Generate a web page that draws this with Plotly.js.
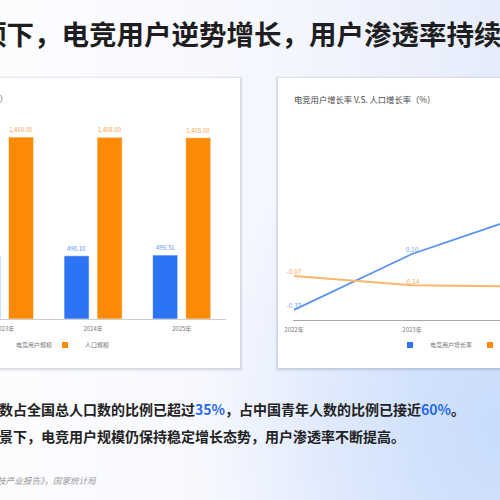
<!DOCTYPE html>
<html>
<head>
<meta charset="utf-8">
<script src="https://cdn.plot.ly/plotly-3.0.1.min.js"></script>
<style>
html,body{margin:0;padding:0;width:500px;height:500px;overflow:hidden;}
body{background:
 radial-gradient(ellipse 60% 70% at 100% 85%, rgba(200,220,252,1) 0%, rgba(200,220,252,0) 100%),
 linear-gradient(90deg,#fdfdff 0%,#f5f7fe 55%,#e6ecfb 100%);}
#chart{width:500px;height:500px;}
</style>
</head>
<body>
<div id="chart"></div>
<script>
// ---- data ----
const barYears = ['2023年', '2024年', '2025年'];
const esportsUsers = [489.60, 490.10, 495.31];
const population = [1410.00, 1408.00, 1405.00];
const rateYears = ['2022年', '2023年', '2024年'];
const esportsGrowth = [-0.33, 0.10, 0.41];
const popGrowth = [-0.07, -0.14, -0.15];
const seriesNames = ['电竞用户规模', '人口规模', '电竞用户增长率', '人口增长率'];

const BLUE = '#2c74f4', ORANGE = '#fd8a04';
const LBLUE = '#5a93f7', LORANGE = '#fbb66c';
const FONT = '"Noto Sans CJK SC", "Noto Sans", sans-serif';
const px = v => v / 500;          // horizontal pixel -> paper
const py = v => (500 - v) / 500;  // vertical pixel -> paper

// value labels: shown only where the point lies inside the visible frame
const barUserTpl = ['', '%{y:,.2f}', '%{y:,.2f}'];
const lineTpl = ['%{y:.2f}', '%{y:.2f}', ''];

const traces = [
  {type:'bar', x:barYears, y:esportsUsers, name:seriesNames[0], xaxis:'x', yaxis:'y',
   marker:{color:BLUE, line:{color:'rgba(255,255,255,0.6)', width:1}},
   texttemplate:barUserTpl, textposition:'outside', constraintext:'none',
   textfont:{size:6, color:'#5b8ff0', family:FONT}, showlegend:false, cliponaxis:true},
  {type:'bar', x:barYears, y:population, name:seriesNames[1], xaxis:'x', yaxis:'y',
   marker:{color:ORANGE, line:{color:'rgba(255,255,255,0.6)', width:1}},
   texttemplate:'%{y:,.2f}', textposition:'outside', constraintext:'none',
   textfont:{size:6, color:'#f8a24c', family:FONT}, showlegend:false, cliponaxis:true},
  {type:'scatter', mode:'lines+text', x:rateYears, y:esportsGrowth, name:seriesNames[2],
   xaxis:'x2', yaxis:'y2', line:{color:LBLUE, width:1.8}, marker:{size:1},
   texttemplate:lineTpl, textposition:'top center',
   textfont:{size:6.5, color:'#6f9ff5', family:FONT}, showlegend:false, cliponaxis:false},
  {type:'scatter', mode:'lines+text', x:rateYears, y:popGrowth, name:seriesNames[3],
   xaxis:'x2', yaxis:'y2', line:{color:LORANGE, width:2}, marker:{size:1},
   texttemplate:lineTpl, textposition:'top center',
   textfont:{size:6.5, color:'#f5a850', family:FONT}, showlegend:false, cliponaxis:false},
  // legend entries
  {type:'scatter', mode:'markers', x:[null], y:[null], xaxis:'x', yaxis:'y', name:seriesNames[0],
   marker:{symbol:'square', size:6, color:BLUE}, legend:'legend'},
  {type:'scatter', mode:'markers', x:[null], y:[null], xaxis:'x', yaxis:'y', name:seriesNames[1],
   marker:{symbol:'square', size:6, color:ORANGE}, legend:'legend2'},
  {type:'scatter', mode:'markers', x:[null], y:[null], xaxis:'x2', yaxis:'y2', name:seriesNames[2],
   marker:{symbol:'square', size:6, color:BLUE}, legend:'legend3'},
  {type:'scatter', mode:'markers', x:[null], y:[null], xaxis:'x2', yaxis:'y2', name:seriesNames[3],
   marker:{symbol:'square', size:6, color:'#ff8a10'}, legend:'legend4'}
];

function legendAt(xpx) {
  return {x:px(xpx), xanchor:'left', y:py(345), yanchor:'middle', orientation:'h',
    bgcolor:'rgba(0,0,0,0)', font:{size:6, color:'#777', family:FONT}, itemwidth:30};
}

// cards with soft shadow
const cards = [[-30, 240, 78, 368], [278, 530, 78, 368]];
const shapes = [];
cards.forEach(c => {
  [[3, 0.035], [2, 0.05], [1, 0.08]].forEach(s => {
    shapes.push({type:'rect', xref:'paper', yref:'paper', layer:'below',
      x0:px(c[0]-s[0]), x1:px(c[1]+s[0]), y0:py(c[3]+s[0]+0.5), y1:py(c[2]-s[0]+1),
      fillcolor:'rgba(40,50,80,' + s[1] + ')', line:{width:0}});
  });
  shapes.push({type:'rect', xref:'paper', yref:'paper', layer:'below',
    x0:px(c[0]), x1:px(c[1]), y0:py(c[3]), y1:py(c[2]),
    fillcolor:'#ffffff', line:{width:0}});
});

const annotations = [
  {text:'<b>顶下，电竞用户逆势增长，用户渗透率持续</b>', xref:'paper', yref:'paper',
   x:px(-22.6), xanchor:'left', y:py(33), yanchor:'middle', showarrow:false,
   font:{size:27.5, color:'#1e1e20', family:FONT}},
  {text:'电竞用户规模 V.S. 人口规模（百万）', xref:'paper', yref:'paper',
   x:px(10), xanchor:'right', y:py(99), yanchor:'middle', showarrow:false,
   font:{size:8, color:'#555', family:FONT}},
  {text:'电竞用户增长率 V.S. 人口增长率（%）', xref:'paper', yref:'paper',
   x:px(292), xanchor:'left', y:py(99), yanchor:'middle', showarrow:false,
   font:{size:8.3, color:'#4a4a4a', family:FONT}},
  {text:'<b>数占全国总人口数的比例已超过<span style="color:#2a6ae9">35%</span>，占中国青年人数的比例已接近<span style="color:#2a6ae9">60%</span>。</b>',
   xref:'paper', yref:'paper', x:px(-3), xanchor:'left', y:py(409), yanchor:'middle', showarrow:false,
   font:{size:14, color:'#222', family:FONT}},
  {text:'<b>景下，电竞用户规模仍保持稳定增长态势，用户渗透率不断提高。</b>',
   xref:'paper', yref:'paper', x:px(-3), xanchor:'left', y:py(436), yanchor:'middle', showarrow:false,
   font:{size:14, color:'#222', family:FONT}},
  {text:'<i>技产业报告》，国家统计局</i>',
   xref:'paper', yref:'paper', x:px(-5), xanchor:'left', y:py(480), yanchor:'middle', showarrow:false,
   font:{size:8.6, color:'#9a9a9a', family:FONT}}
];

const layout = {
  width:500, height:500, autosize:false,
  margin:{l:0, r:0, t:0, b:0, pad:0, autoexpand:false},
  paper_bgcolor:'rgba(0,0,0,0)', plot_bgcolor:'rgba(0,0,0,0)',
  font:{family:FONT},
  barmode:'group', bargap:0.254, bargroupgap:0.24,
  xaxis:{domain:[0, px(226)], range:[-4.5/88.5, 2.5], type:'category', showline:true,
    linecolor:'#cdcdcd', linewidth:1, ticks:'', showgrid:false, zeroline:false,
    tickfont:{size:6, color:'#777', family:FONT}, ticklabelstandoff:4, fixedrange:true, automargin:false},
  yaxis:{domain:[py(319), py(112.5)], range:[0, 1600], visible:false, fixedrange:true},
  xaxis2:{domain:[px(293), 1], range:[-1/118, 206/118], type:'category', anchor:'y2',
    showline:true, linecolor:'#a8a8a8', linewidth:1, ticks:'', showgrid:false, zeroline:false,
    tickfont:{size:6, color:'#777', family:FONT}, ticklabelstandoff:4, fixedrange:true, automargin:false},
  yaxis2:{domain:[py(320), py(110)], range:[-0.408, 1.208], anchor:'x2', visible:false, fixedrange:true},
  legend:legendAt(-24), legend2:legendAt(45), legend3:legendAt(390), legend4:legendAt(470),
  shapes:shapes, annotations:annotations
};

Plotly.newPlot('chart', traces, layout, {displayModeBar:false, staticPlot:true});
</script>
</body>
</html>
